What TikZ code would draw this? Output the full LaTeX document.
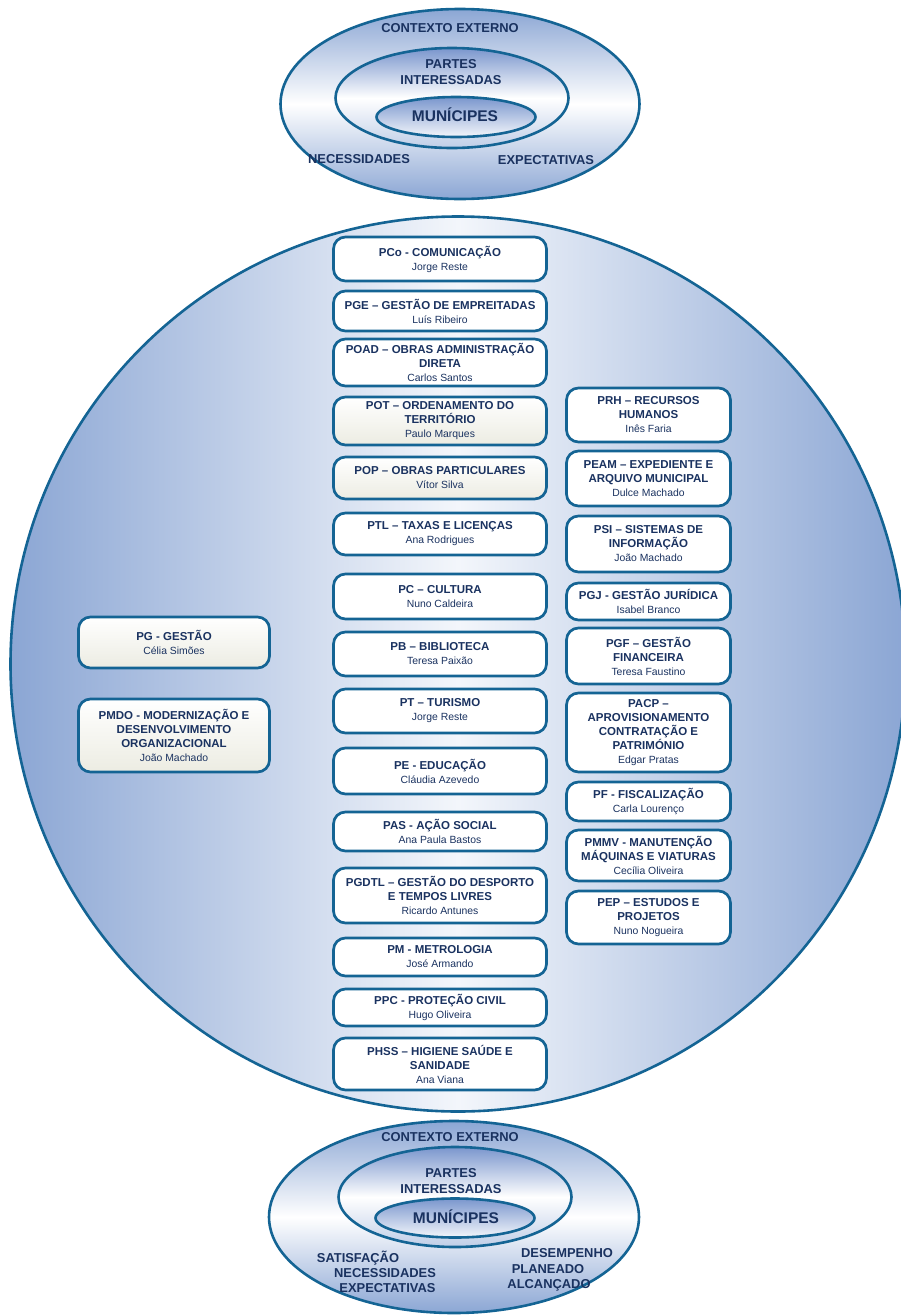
\documentclass[tikz,border=0pt]{standalone}
\usepackage{fontspec}
\setmainfont{Liberation Sans}
\usetikzlibrary{shapes.geometric}
\definecolor{ink}{RGB}{26,50,96}
\definecolor{edge}{RGB}{20,100,148}
\definecolor{sky}{RGB}{139,166,212}
\definecolor{deepsky}{RGB}{122,150,205}
\definecolor{mist}{RGB}{243,246,251}
\definecolor{cream}{RGB}{236,236,226}
\newcommand{\who}[1]{{\mdseries\fontsize{10.4}{13}\selectfont #1}}
\tikzset{
  unit/.style={draw=edge, line width=2.7pt, rounded corners=12pt, fill=white, text=ink,
    align=center, inner sep=1pt, font=\bfseries\fontsize{11.5}{14}\selectfont},
  midcol/.style={unit, minimum width=213pt},
  rightcol/.style={unit, minimum width=164pt},
  leftcol/.style={unit, minimum width=191pt},
  aged/.style={top color=white, bottom color=cream},
  ring/.style={ellipse, draw=edge, line width=2.6pt, inner sep=0pt},
  tag/.style={text=ink, anchor=base, align=center, inner sep=0pt,
    font=\bfseries\fontsize{12.9}{16}\selectfont},
  bigtag/.style={tag, font=\bfseries\fontsize{15.5}{18}\selectfont}
}

\begin{document}
\begin{tikzpicture}[x=1pt,y=-1pt]
\useasboundingbox (0,0) rectangle (901,1315);

\node[ring, minimum width=359pt, minimum height=190pt, top color=sky, bottom color=sky, middle color=white] (ctxtop) at (460,104) {};
\node[ring, minimum width=233pt, minimum height=100pt, top color=deepsky, bottom color=sky!55, middle color=white] (partop) at (452,98) {};
\node[ring, minimum width=159pt, minimum height=40pt, top color=deepsky, bottom color=mist] (muntop) at (456,117) {};
\node[tag] (ctxtopl) at (450,32.5) {CONTEXTO EXTERNO};
\node[tag] (partopl) at (451,84.5) {PARTES\\INTERESSADAS};
\node[bigtag] (muntopl) at (455,121.5) {MUNÍCIPES};
\node[tag] (nectop) at (359,163.5) {NECESSIDADES};
\node[tag] (exptop) at (546,164.5) {EXPECTATIVAS};

\node[ring, minimum width=895pt, minimum height=895pt, left color=sky, right color=sky, middle color=mist] (realm) at (458,664) {};

\node[midcol, minimum height=44pt] (pco) at (440,259) {PCo - COMUNICAÇÃO\\\who{Jorge Reste}};
\node[midcol, minimum height=40pt] (pge) at (440,311) {PGE – GESTÃO DE EMPREITADAS\\\who{Luís Ribeiro}};
\node[midcol, minimum height=47pt] (poad) at (440,362.5) {POAD – OBRAS ADMINISTRAÇÃO\\DIRETA\\\who{Carlos Santos}};
\node[midcol, aged, minimum height=48pt] (pot) at (440,421) {POT – ORDENAMENTO DO\\TERRITÓRIO\\\who{Paulo Marques}};
\node[midcol, aged, minimum height=42pt] (pop) at (440,478) {POP – OBRAS PARTICULARES\\\who{Vítor Silva}};
\node[midcol, minimum height=42pt] (ptl) at (440,534) {PTL – TAXAS E LICENÇAS\\\who{Ana Rodrigues}};
\node[midcol, minimum height=45pt] (pc) at (440,596.5) {PC – CULTURA\\\who{Nuno Caldeira}};
\node[midcol, minimum height=44pt] (pb) at (440,654) {PB – BIBLIOTECA\\\who{Teresa Paixão}};
\node[midcol, minimum height=44pt] (pt) at (440,711) {PT – TURISMO\\\who{Jorge Reste}};
\node[midcol, minimum height=46pt] (pe) at (440,771) {PE - EDUCAÇÃO\\\who{Cláudia Azevedo}};
\node[midcol, minimum height=39pt] (pas) at (440,831.5) {PAS - AÇÃO SOCIAL\\\who{Ana Paula Bastos}};
\node[midcol, minimum height=55pt] (pgdtl) at (440,895.5) {PGDTL – GESTÃO DO DESPORTO\\E TEMPOS LIVRES\\\who{Ricardo Antunes}};
\node[midcol, minimum height=38pt] (pm) at (440,957) {PM - METROLOGIA\\\who{José Armando}};
\node[midcol, minimum height=37pt] (ppc) at (440,1007.5) {PPC - PROTEÇÃO CIVIL\\\who{Hugo Oliveira}};
\node[midcol, minimum height=52pt] (phss) at (440,1064) {PHSS – HIGIENE SAÚDE E\\SANIDADE\\\who{Ana Viana}};

\node[rightcol, minimum height=54pt] (prh) at (648.5,415) {PRH – RECURSOS\\HUMANOS\\\who{Inês Faria}};
\node[rightcol, minimum height=55pt] (peam) at (648.5,478.5) {PEAM – EXPEDIENTE E\\ARQUIVO MUNICIPAL\\\who{Dulce Machado}};
\node[rightcol, minimum height=56pt] (psi) at (648.5,544) {PSI – SISTEMAS DE\\INFORMAÇÃO\\\who{João Machado}};
\node[rightcol, minimum height=37pt] (pgj) at (648.5,601.5) {PGJ - GESTÃO JURÍDICA\\\who{Isabel Branco}};
\node[rightcol, minimum height=56pt] (pgf) at (648.5,656) {PGF – GESTÃO\\FINANCEIRA\\\who{Teresa Faustino}};
\node[rightcol, minimum height=79pt] (pacp) at (648.5,732.5) {PACP –\\APROVISIONAMENTO\\CONTRATAÇÃO E\\PATRIMÓNIO\\\who{Edgar Pratas}};
\node[rightcol, minimum height=39pt] (pf) at (648.5,801.5) {PF - FISCALIZAÇÃO\\\who{Carla Lourenço}};
\node[rightcol, minimum height=51pt] (pmmv) at (648.5,855.5) {PMMV - MANUTENÇÃO\\MÁQUINAS E VIATURAS\\\who{Cecília Oliveira}};
\node[rightcol, minimum height=53pt] (pep) at (648.5,917.5) {PEP – ESTUDOS E\\PROJETOS\\\who{Nuno Nogueira}};

\node[leftcol, aged, minimum height=51pt] (pg) at (174,642.5) {PG - GESTÃO\\\who{Célia Simões}};
\node[leftcol, aged, minimum height=73pt] (pmdo) at (174,735.5) {PMDO - MODERNIZAÇÃO E\\DESENVOLVIMENTO\\ORGANIZACIONAL\\\who{João Machado}};

\node[ring, minimum width=370pt, minimum height=192pt, top color=sky, bottom color=sky, middle color=white] (ctxbot) at (454,1217) {};
\node[ring, minimum width=233pt, minimum height=100pt, top color=deepsky, bottom color=sky!55, middle color=white] (parbot) at (455,1197) {};
\node[ring, minimum width=159pt, minimum height=39pt, top color=deepsky, bottom color=mist] (munbot) at (455,1218) {};
\node[tag] (ctxbotl) at (450,1141.5) {CONTEXTO EXTERNO};
\node[tag] (parbotl) at (451,1193.5) {PARTES\\INTERESSADAS};
\node[bigtag] (munbotl) at (456,1223.5) {MUNÍCIPES};
\node[tag] (satbot) at (358,1262.5) {SATISFAÇÃO};
\node[tag] (necbot) at (385,1277.5) {NECESSIDADES};
\node[tag] (expbot) at (387.5,1292.5) {EXPECTATIVAS};
\node[tag] (desbot) at (567,1257.5) {DESEMPENHO};
\node[tag] (plabot) at (548,1273.5) {PLANEADO};
\node[tag] (alcbot) at (549,1288.5) {ALCANÇADO};

\end{tikzpicture}
\end{document}
